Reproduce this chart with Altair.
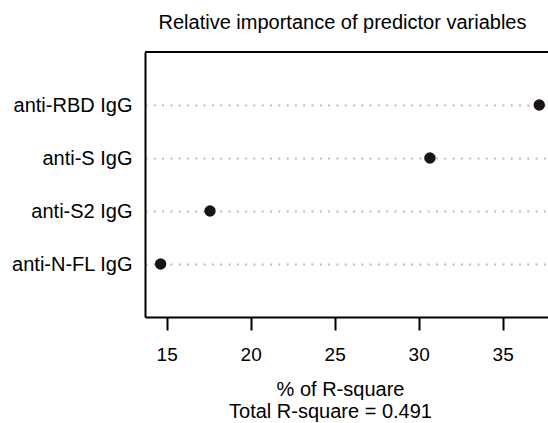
import altair as alt
import pandas as pd

# Data
predictors = ["anti-RBD IgG", "anti-S IgG", "anti-S2 IgG", "anti-N-FL IgG"]
pct_r2 = [37.18, 30.67, 17.58, 14.64]
x_ticks = [15, 20, 25, 30, 35]
title_text = "Relative importance of predictor variables"
xlab_1 = "% of R-square"
xlab_2 = "Total R-square = 0.491"

df = pd.DataFrame({"predictor": predictors, "pct": pct_r2})

W, H = 403, 265
FONT = "Liberation Sans"

x_scale = alt.Scale(domain=[13.71, 37.70], nice=False, zero=False)
y_scale = alt.Scale(type="point", padding=1, domain=predictors)

points = alt.Chart(df).mark_circle(size=130, color="#1b1212", opacity=1).encode(
    x=alt.X("pct:Q", scale=x_scale,
            axis=alt.Axis(values=x_ticks, title=None, grid=False,
                          domainColor="black", domainWidth=2,
                          tickColor="black", tickWidth=2, tickSize=13,
                          labelFontSize=19, labelColor="black", labelFont=FONT,
                          labelPadding=15, labelFlush=False)),
    y=alt.Y("predictor:N", scale=y_scale, sort=predictors,
            axis=alt.Axis(title=None, ticks=False, grid=True,
                          gridColor="#bcbcbc", gridDash=[2, 6.3], gridWidth=2,
                          domainColor="black", domainWidth=2,
                          labelFontSize=20, labelColor="black", labelFont=FONT,
                          labelPadding=13)),
)

top_line = alt.Chart(pd.DataFrame({"k": [0]})).mark_rule(
    color="black", strokeWidth=2
).encode(x=alt.value(0), x2=alt.value(W), y=alt.value(0))

title_mark = alt.Chart(pd.DataFrame({"t": [title_text]})).mark_text(
    fontSize=20, font=FONT, color="black", align="center", baseline="alphabetic"
).encode(text="t:N", x=alt.value(197.5), y=alt.value(-23))

lab1 = alt.Chart(pd.DataFrame({"t": [xlab_1]})).mark_text(
    fontSize=20, font=FONT, color="black", align="center", baseline="alphabetic"
).encode(text="t:N", x=alt.value(195.5), y=alt.value(344))

lab2 = alt.Chart(pd.DataFrame({"t": [xlab_2]})).mark_text(
    fontSize=20, font=FONT, color="black", align="center", baseline="alphabetic"
).encode(text="t:N", x=alt.value(185.5), y=alt.value(366))

chart = alt.layer(points, top_line, title_mark, lab1, lab2).properties(
    width=W, height=H,
    autosize=alt.AutoSizeParams(type="none"),
    padding={"left": 145, "top": 52, "right": 0, "bottom": 106},
).configure_view(stroke=None).configure(background="white")

chart.save("out.html", embed_options={"renderer": "svg", "actions": False})
